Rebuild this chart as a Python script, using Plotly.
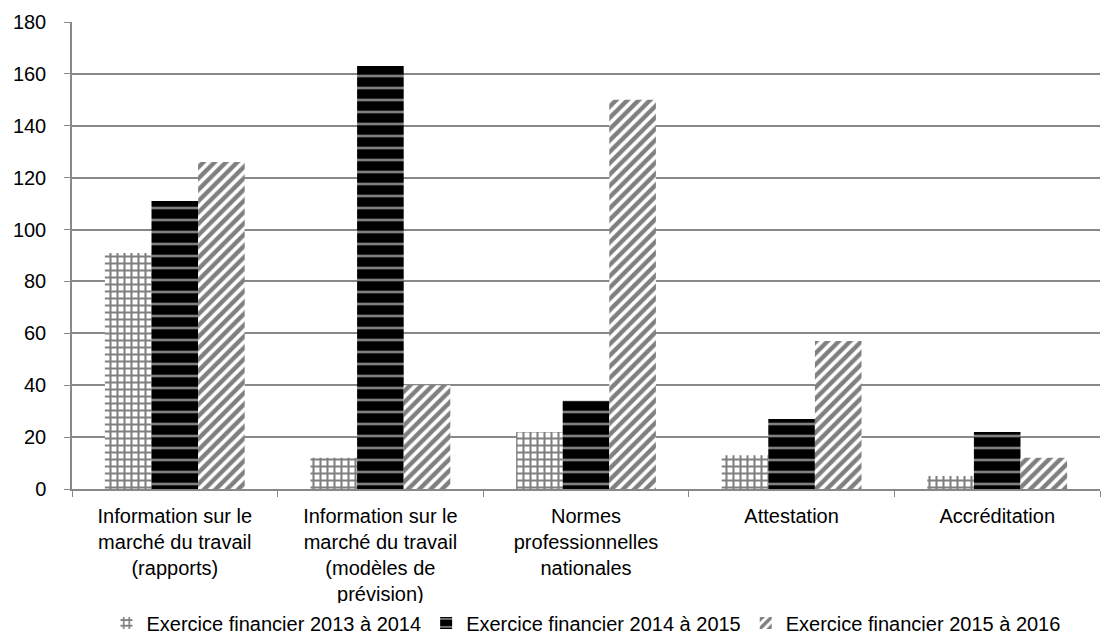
import plotly.graph_objects as go

categories = [
    "Information sur le<br>marché du travail<br>(rapports)",
    "Information sur le<br>marché du travail<br>(modèles de<br>prévision)",
    "Normes<br>professionnelles<br>nationales",
    "Attestation",
    "Accréditation",
]
series_names = [
    "Exercice financier 2013 à 2014",
    "Exercice financier 2014 à 2015",
    "Exercice financier 2015 à 2016",
]
v2013 = [91, 12, 22, 13, 5]
v2014 = [111, 163, 34, 27, 22]
v2015 = [126, 40, 150, 57, 12]

fig = go.Figure()
fig.add_trace(go.Bar(
    x=categories, y=v2013, name=series_names[0],
    marker=dict(color="white", line=dict(width=0),
                pattern=dict(shape="+", fgcolor="black", bgcolor="white", size=7, solidity=0.5)),
))
fig.add_trace(go.Bar(
    x=categories, y=v2014, name=series_names[1],
    marker=dict(color="black", line=dict(width=0),
                pattern=dict(shape="-", fgcolor="white", bgcolor="black", size=12, solidity=0.22)),
))
fig.add_trace(go.Bar(
    x=categories, y=v2015, name=series_names[2],
    marker=dict(color="white", line=dict(width=0),
                pattern=dict(shape="/", fgcolor="black", bgcolor="white", size=8, solidity=0.55)),
))

fig.update_layout(
    width=1102, height=643,
    barmode="group", bargap=0.32, bargroupgap=0,
    plot_bgcolor="white", paper_bgcolor="white",
    margin=dict(l=72, r=2, t=22, b=154, autoexpand=False),
    font=dict(family="Liberation Sans, Arial, sans-serif", size=20, color="black"),
    legend=dict(orientation="h", x=0.5, xanchor="center", y=-0.245, yanchor="top",
                font=dict(size=20), itemwidth=30, tracegroupgap=0),
    xaxis=dict(showline=True, linecolor="#888888", linewidth=1.5, tickson="boundaries",
               ticks="outside", ticklen=6, tickcolor="#888888", showgrid=False,
               ticklabelstandoff=8, automargin=False),
    yaxis=dict(range=[0, 180], dtick=20, showline=True, linecolor="#888888", linewidth=1.5,
               ticks="outside", ticklen=6, tickcolor="#888888", ticklabelstandoff=14,
               showgrid=True, gridcolor="#888888", gridwidth=1.5, zeroline=False,
               automargin=False),
)

fig.write_html("out.html")
